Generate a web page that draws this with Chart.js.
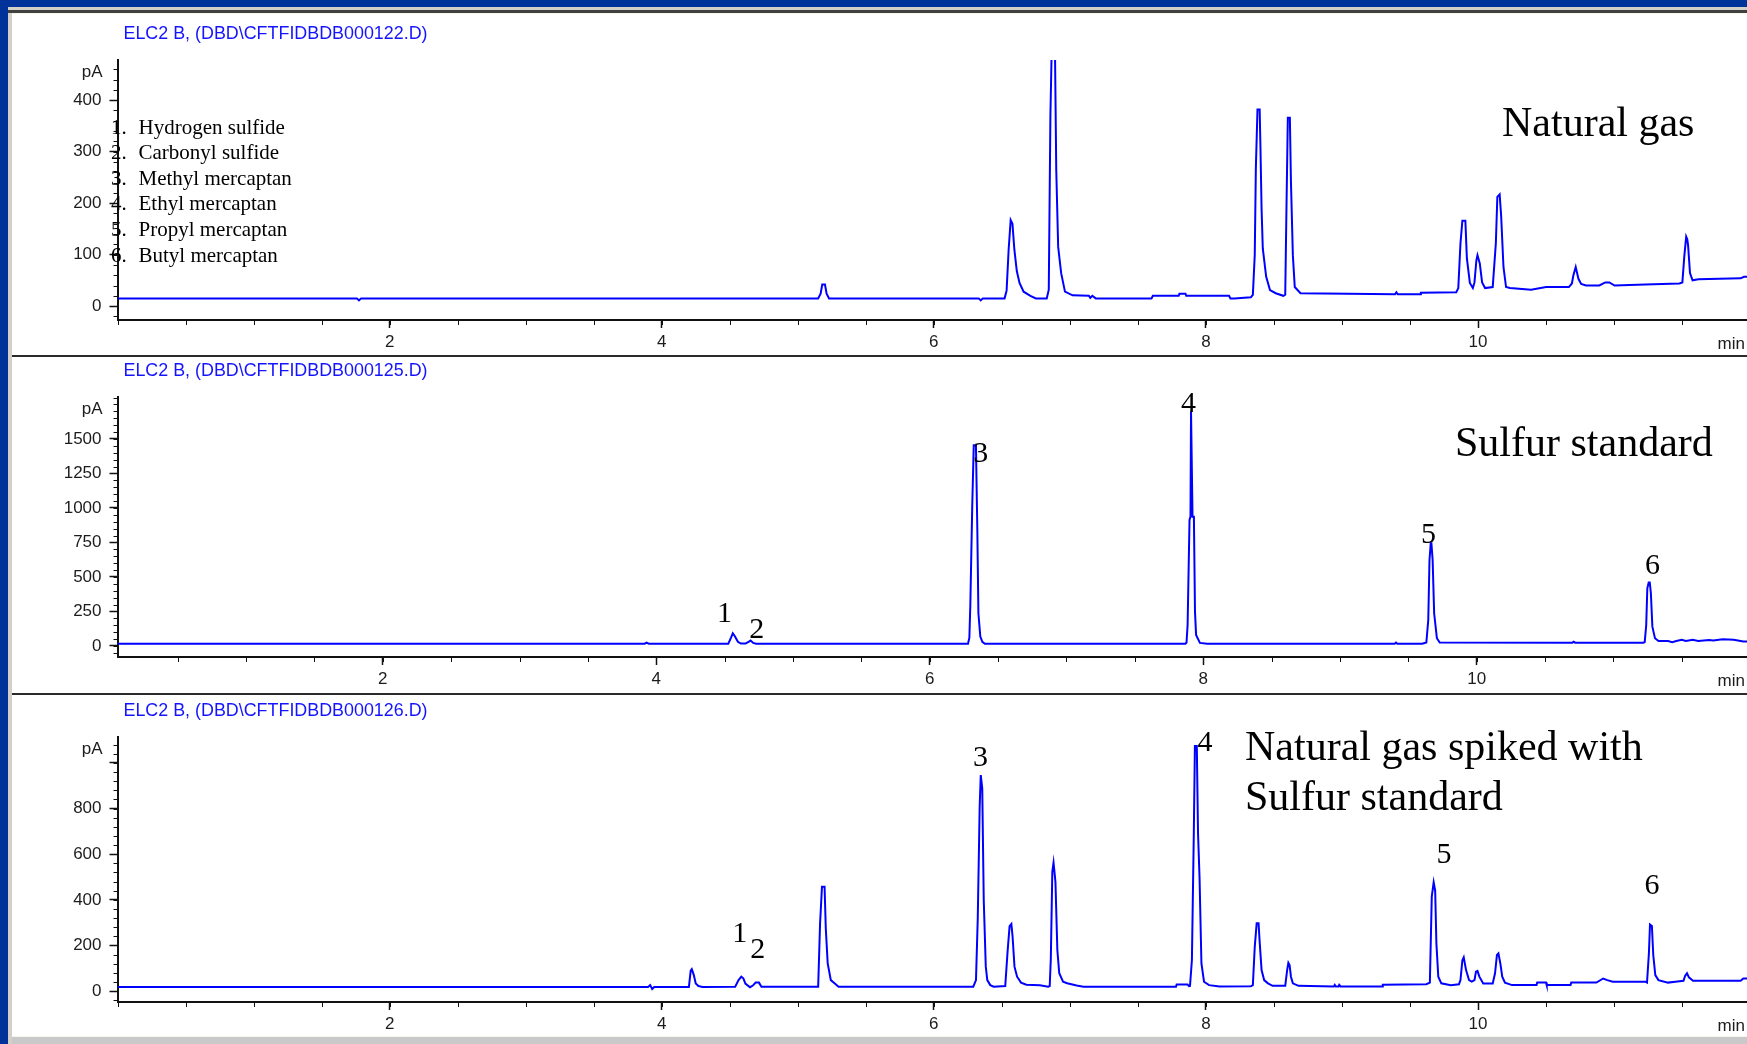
<!DOCTYPE html>
<html>
<head>
<meta charset="utf-8">
<title>Sulfur compounds in natural gas</title>
<script src="https://cdn.jsdelivr.net/npm/chart.js@4.4.1/dist/chart.umd.min.js"></script>
<style>
  html, body { margin: 0; padding: 0; }
  body { width: 1747px; height: 1044px; background: #003399; position: relative; overflow: hidden; }
  .window { position: absolute; left: 8px; top: 7px; width: 1739px; height: 1037px; background: #d4d0c8; }
  .rule { position: absolute; left: 8px; top: 10px; width: 1739px; height: 3px; background: #404040; }
  .sheet { position: absolute; left: 12px; top: 13px; width: 1735px; height: 1024px; background: #f7f5ec; }
  canvas { position: absolute; left: 12px; background: #fff; }
  .sep { position: absolute; left: 12px; width: 1735px; height: 2px; background: #2a2a2a; }
  .status { position: absolute; left: 12px; top: 1037px; width: 1735px; height: 7px; background: #c9c9c9; }
</style>
</head>
<body>
<div class="window"></div>
<div class="rule"></div>
<div class="sheet"></div>
<canvas id="gas" width="1735" height="341" style="top:14px"></canvas>
<div class="sep" style="top:355px"></div>
<canvas id="standard" width="1735" height="336" style="top:357px"></canvas>
<div class="sep" style="top:693px"></div>
<canvas id="spiked" width="1735" height="341" style="top:695px"></canvas>
<div class="status"></div>

<script>
// Retention time (min) and detector signal (pA) of each run
const gasTime = [0, 1.76, 1.775, 1.79, 5.15, 5.168, 5.18, 5.2, 5.212, 5.23, 6.33, 6.345, 6.36,
  6.52, 6.535, 6.55, 6.565, 6.578, 6.592, 6.61, 6.63, 6.66, 6.71, 6.75, 6.83, 6.845, 6.857, 6.871,
  6.888, 6.9, 6.914, 6.936, 6.964, 7.02, 7.14, 7.15, 7.165, 7.19, 7.6, 7.61, 7.8, 7.805, 7.85, 7.855,
  8.17, 8.18, 8.21, 8.33, 8.345, 8.359, 8.367, 8.379, 8.395, 8.401, 8.409, 8.418, 8.443, 8.471,
  8.513, 8.569, 8.583, 8.591, 8.602, 8.617, 8.625, 8.639, 8.653, 8.695, 9.39, 9.4, 9.41, 9.575,
  9.58, 9.84, 9.855, 9.871, 9.885, 9.907, 9.918, 9.94, 9.962, 9.974, 9.988, 9.996, 10.013, 10.03,
  10.052, 10.108, 10.131, 10.142, 10.159, 10.17, 10.187, 10.206, 10.235, 10.39, 10.5, 10.668,
  10.69, 10.701, 10.718, 10.738, 10.758, 10.794, 10.892, 10.935, 10.965, 11.004, 11.228, 11.48,
  11.502, 11.516, 11.53, 11.538, 11.544, 11.558, 11.577, 11.62, 11.93, 11.955, 11.98];
const gasPA = [15, 15, 11, 15, 15, 24, 42, 42, 24, 15, 15, 11, 15,
  15, 30, 110, 167, 160, 110, 68, 45, 28, 20, 15, 15, 32, 371, 560,
  560, 264, 115, 64, 28, 21, 20, 16, 20, 15, 15, 20, 20, 24, 24, 20,
  20, 15, 15, 17, 22, 100, 267, 382, 382, 306, 190, 112, 57, 31,
  25, 20, 22, 171, 366, 366, 241, 99, 37, 25, 23, 27, 23, 23,
  26, 27, 35, 122, 166, 166, 93, 45, 35, 46, 89, 99, 83, 46,
  35, 37, 122, 212, 217, 175, 76, 37, 35, 32, 37, 37,
  44, 60, 76, 53, 43, 40, 40, 46, 46, 40, 42, 44,
  46, 96, 135, 130, 118, 64, 50, 52, 54, 57, 57];

const standardTime = [0.06, 3.915, 3.93, 3.945, 4.527, 4.547, 4.56, 4.575, 4.597, 4.619, 4.653,
  4.675, 4.69, 4.709, 4.73, 6.28, 6.29, 6.297, 6.311, 6.322, 6.338, 6.348, 6.356, 6.37, 6.385,
  6.403, 7.87, 7.878, 7.886, 7.9, 7.907, 7.911, 7.917, 7.922, 7.932, 7.94, 7.948, 7.976, 8.03,
  9.4, 9.41, 9.42, 9.6, 9.62, 9.632, 9.646, 9.655, 9.664, 9.669, 9.678, 9.689, 9.709, 9.73,
  10.7, 10.71, 10.72, 11.22, 11.229, 11.24, 11.248, 11.258, 11.266, 11.274, 11.285, 11.304,
  11.33, 11.4, 11.43, 11.46, 11.5, 11.53, 11.58, 11.62, 11.7, 11.73, 11.8, 11.88, 11.95, 11.98];
const standardPA = [16, 16, 24, 16, 16, 60, 92, 70, 30, 17, 17,
  30, 39, 22, 16, 16, 60, 297, 1017, 1455, 1455, 853, 237, 68, 30,
  16, 16, 25, 152, 913, 937, 1700, 1700, 937, 937, 249, 80, 22, 16,
  16, 24, 16, 16, 22, 25, 188, 623, 745, 745, 623, 237, 56, 25,
  24, 31, 24, 24, 28, 152, 418, 459, 459, 382, 140, 56,
  36, 36, 28, 36, 44, 36, 44, 36, 44, 40, 48, 45, 32, 32];

const spikedTime = [0, 3.9, 3.915, 3.93, 3.945, 4.2, 4.213, 4.221, 4.236, 4.25, 4.27, 4.3,
  4.54, 4.565, 4.585, 4.6, 4.615, 4.649, 4.67, 4.69, 4.715, 4.733, 5.15, 5.164, 5.178, 5.197,
  5.206, 5.22, 5.243, 5.27, 5.3, 6.29, 6.31, 6.323, 6.337, 6.345, 6.356, 6.367, 6.382, 6.393,
  6.415, 6.44, 6.525, 6.542, 6.557, 6.57, 6.579, 6.593, 6.612, 6.641, 6.68, 6.78, 6.84, 6.852,
  6.86, 6.871, 6.88, 6.894, 6.908, 6.922, 6.95, 6.98, 7.05, 7.1, 7.78, 7.785, 7.865, 7.875,
  7.883, 7.897, 7.911, 7.919, 7.933, 7.942, 7.953, 7.967, 7.986, 8.023, 8.1, 8.33, 8.345, 8.359,
  8.373, 8.387, 8.395, 8.409, 8.428, 8.456, 8.49, 8.583, 8.597, 8.606, 8.615, 8.625, 8.639,
  8.68, 8.94, 8.947, 8.955, 8.975, 8.98, 8.99, 9.297, 9.3, 9.62, 9.646, 9.66, 9.674, 9.685,
  9.694, 9.708, 9.73, 9.8, 9.86, 9.871, 9.885, 9.895, 9.912, 9.934, 9.954, 9.974, 9.985, 9.996,
  10.01, 10.038, 10.108, 10.125, 10.139, 10.15, 10.164, 10.178, 10.198, 10.25, 10.43, 10.435,
  10.5, 10.505, 10.68, 10.685, 10.87, 10.92, 10.95, 10.99, 11.23, 11.242, 11.256, 11.264,
  11.278, 11.288, 11.303, 11.326, 11.396, 11.45, 11.51, 11.522, 11.536, 11.55, 11.58, 11.93,
  11.95, 11.98];
const spikedPA = [18, 18, 26, 9, 18, 18, 90, 96, 70, 33, 22, 18,
  19, 48, 63, 56, 33, 17, 24, 37, 37, 19, 19, 297, 457, 457,
  275, 121, 48, 34, 19, 19, 48, 319, 806, 947, 889, 399, 107, 48,
  26, 19, 22, 172, 285, 294, 238, 107, 63, 37, 28, 25, 19, 22,
  143, 523, 563, 479, 180, 78, 41, 34, 24, 19, 19, 29, 29, 22,
  23, 136, 692, 1075, 1075, 692, 501, 121, 41, 26, 20, 21, 26, 194,
  297, 297, 216, 92, 48, 34, 23, 23, 92, 124, 114, 63, 34,
  23, 20, 27, 20, 20, 27, 20, 20, 28, 30, 37, 414, 477, 440,
  209, 63, 34, 26, 30, 48, 135, 148, 92, 48, 41, 48, 85, 88,
  63, 33, 33, 78, 158, 165, 121, 63, 37, 26, 26, 37,
  37, 26, 26, 37, 37, 55, 48, 41, 41, 37, 165, 292,
  285, 158, 70, 48, 37, 41, 45, 66, 78, 60, 45, 45,
  55, 55];

// Axis ticks
const timeTicks = [2, 4, 6, 8, 10];
const gasTicks = [0, 100, 200, 300, 400];
const standardTicks = [0, 250, 500, 750, 1000, 1250, 1500];
const spikedTicks = [0, 200, 400, 600, 800, 1000];
const spikedTickLabels = [0, 200, 400, 600, 800];

// Compound key and peak numbers: [label, time, pA]
const compounds = ['Hydrogen sulfide', 'Carbonyl sulfide', 'Methyl mercaptan',
  'Ethyl mercaptan', 'Propyl mercaptan', 'Butyl mercaptan'];
const standardPeaks = [['1', 4.5, 232], ['2', 4.735, 112], ['3', 6.373, 1387],
  ['4', 7.893, 1754], ['5', 9.647, 804], ['6', 11.285, 580]];
const spikedPeaks = [['1', 4.574, 251], ['2', 4.705, 178], ['3', 6.343, 1023],
  ['4', 7.993, 1088], ['5', 9.75, 598], ['6', 11.279, 461]];

const AXIS = '#111';
const INK = '#1c1c1c';
const Y_AXIS_WIDTH = 105.5;

// Minor ticks, file header, captions and peak numbers
function decor(cfg) {
  return {
    id: 'decor',
    afterDraw(chart) {
      const { ctx, chartArea: area, scales: { x, y } } = chart;
      ctx.save();
      ctx.strokeStyle = AXIS;
      ctx.lineWidth = 1;
      ctx.beginPath();
      for (let t = Math.ceil(x.min / 0.5) * 0.5; t <= x.max; t += 0.5) {
        const px = Math.round(x.getPixelForValue(t)) + 0.5;
        ctx.moveTo(px, area.bottom);
        ctx.lineTo(px, area.bottom + 5);
      }
      for (let v = Math.ceil(y.min / cfg.yMinor) * cfg.yMinor; v <= y.max; v += cfg.yMinor) {
        const py = Math.round(y.getPixelForValue(v)) + 0.5;
        ctx.moveTo(area.left - 4, py);
        ctx.lineTo(area.left, py);
      }
      ctx.stroke();

      ctx.textBaseline = 'middle';
      ctx.fillStyle = '#1414ff';
      ctx.font = '18px "Liberation Sans", Arial, sans-serif';
      ctx.textAlign = 'left';
      ctx.fillText(cfg.file, area.left + 6, area.top - 26, 304);

      ctx.fillStyle = INK;
      ctx.font = '17px "Liberation Sans", Arial, sans-serif';
      ctx.textAlign = 'right';
      ctx.fillText('pA', area.left - 15, area.top + 12);
      ctx.fillText('min', area.right - 2, area.bottom + 24);

      ctx.fillStyle = '#000';
      ctx.textAlign = 'left';
      ctx.font = '42px "Liberation Serif", "Times New Roman", serif';
      cfg.caption.forEach((line, i) => {
        ctx.fillText(line, cfg.captionX, cfg.captionY + i * 50);
      });

      if (cfg.key) {
        ctx.font = '21px "Liberation Serif", "Times New Roman", serif';
        cfg.key.forEach((name, i) => {
          const ly = 114 + i * 25.6;
          ctx.fillText((i + 1) + '.', area.left - 6.5, ly);
          ctx.fillText(name, area.left + 21, ly);
        });
      }

      if (cfg.peaks) {
        ctx.font = '30px "Liberation Serif", "Times New Roman", serif';
        ctx.textAlign = 'center';
        cfg.peaks.forEach(([label, t, v]) => {
          ctx.fillText(label, x.getPixelForValue(t), y.getPixelForValue(v));
        });
      }
      ctx.restore();
    }
  };
}

function buildChart(id, cfg) {
  const canvas = document.getElementById(id);
  const tickFont = { family: '"Liberation Sans", Arial, sans-serif', size: 17 };
  return new Chart(canvas, {
    type: 'line',
    data: {
      datasets: [{
        data: cfg.time.map((t, i) => ({ x: t, y: cfg.pA[i] })),
        borderColor: '#0000ff',
        borderWidth: 2,
        pointRadius: 0,
        tension: 0,
        fill: false
      }]
    },
    options: {
      responsive: false,
      animation: false,
      devicePixelRatio: 1,
      layout: { padding: { top: cfg.areaTop, left: 0, right: 0, bottom: 0 } },
      plugins: { legend: { display: false }, tooltip: { enabled: false } },
      scales: {
        x: {
          type: 'linear',
          min: cfg.xMin,
          max: 11.977,
          afterBuildTicks: axis => { axis.ticks = timeTicks.map(v => ({ value: v })); },
          afterFit: axis => {
            axis.height = canvas.height - cfg.areaBottom;
            axis.paddingLeft = 0;
            axis.paddingRight = 0;
          },
          border: { display: true, color: AXIS, width: 2 },
          grid: { drawOnChartArea: false, drawTicks: true, tickLength: 8, tickColor: AXIS, tickWidth: 1.5 },
          ticks: { autoSkip: false, maxRotation: 0, padding: 4, color: INK, font: tickFont }
        },
        y: {
          min: cfg.yMin,
          max: cfg.yMax,
          afterBuildTicks: axis => { axis.ticks = cfg.yTicks.map(v => ({ value: v })); },
          afterFit: axis => {
            axis.width = Y_AXIS_WIDTH;
            axis.paddingTop = 0;
            axis.paddingBottom = 0;
          },
          border: { display: true, color: AXIS, width: 2 },
          grid: { drawOnChartArea: false, drawTicks: true, tickLength: 8, tickColor: AXIS, tickWidth: 1.5 },
          ticks: {
            padding: 8,
            color: INK,
            font: tickFont,
            callback: v => (cfg.yLabels.includes(v) ? String(v) : '')
          }
        }
      }
    },
    plugins: [decor(cfg)]
  });
}

buildChart('gas', {
  time: gasTime, pA: gasPA,
  areaTop: 46, areaBottom: 306, xMin: 0, yMin: -27, yMax: 478,
  yTicks: gasTicks, yLabels: gasTicks, yMinor: 20,
  file: 'ELC2 B, (DBD\\CFTFIDBDB000122.D)',
  caption: ['Natural gas'], captionX: 1490, captionY: 111,
  key: compounds
});

buildChart('standard', {
  time: standardTime, pA: standardPA,
  areaTop: 40, areaBottom: 300, xMin: 0.06, yMin: -80, yMax: 1804,
  yTicks: standardTicks, yLabels: standardTicks, yMinor: 50,
  file: 'ELC2 B, (DBD\\CFTFIDBDB000125.D)',
  caption: ['Sulfur standard'], captionX: 1443, captionY: 88,
  peaks: standardPeaks
});

buildChart('spiked', {
  time: spikedTime, pA: spikedPA,
  areaTop: 42, areaBottom: 307, xMin: 0, yMin: -48, yMax: 1114,
  yTicks: spikedTicks, yLabels: spikedTickLabels, yMinor: 40,
  file: 'ELC2 B, (DBD\\CFTFIDBDB000126.D)',
  caption: ['Natural gas spiked with', 'Sulfur standard'], captionX: 1233, captionY: 54,
  peaks: spikedPeaks
});
</script>
</body>
</html>
